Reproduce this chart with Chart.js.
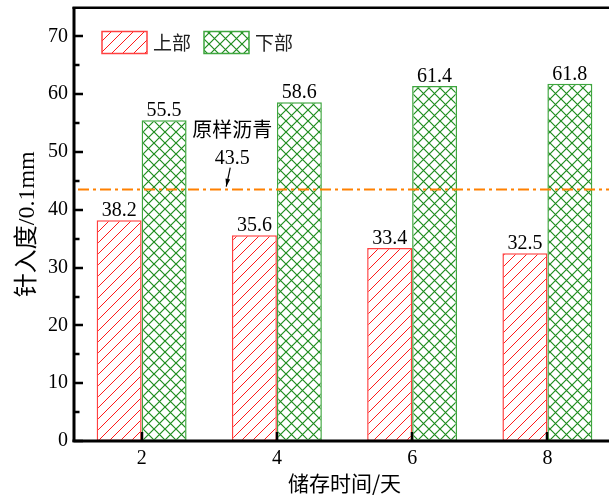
<!DOCTYPE html>
<html>
<head>
<meta charset="utf-8">
<script src="https://cdn.jsdelivr.net/npm/chart.js@4.4.1/dist/chart.umd.min.js"></script>
<style>
  html, body { margin: 0; padding: 0; background: #fff; overflow: hidden; }
  #wrap { width: 616px; height: 499px; position: relative; }
</style>
</head>
<body>
<div id="wrap"><canvas id="c" width="616" height="499"></canvas></div>
<script>
// Storage time (days) and penetration values (0.1 mm)
const categories = ['2', '4', '6', '8'];
const upperValues = [38.2, 35.6, 33.4, 32.5];
const lowerValues = [55.5, 58.6, 61.4, 61.8];
const seriesNames = ['上部', '下部'];
const originalValue = 43.5;
const originalName = '原样沥青';
const yTicks = [0, 10, 20, 30, 40, 50, 60, 70];

const SERIF = '"Liberation Serif", "Times New Roman", "Noto Sans CJK SC", serif';
const CJK = '"Noto Sans CJK SC", "Liberation Serif", serif';

function makePattern(kind) {
  const s = 11;
  const c = document.createElement('canvas');
  c.width = s; c.height = s;
  const g = c.getContext('2d');
  g.fillStyle = '#ffffff';
  g.fillRect(0, 0, s, s);
  g.lineWidth = 1;
  if (kind === 'hatch') {
    g.strokeStyle = '#ff1a1a';
    g.beginPath();
    g.moveTo(-1, s + 1); g.lineTo(s + 1, -1);
    g.moveTo(-1, 1); g.lineTo(1, -1);
    g.moveTo(s - 1, s + 1); g.lineTo(s + 1, s - 1);
    g.stroke();
  } else {
    g.strokeStyle = '#1e8c1e';
    g.lineWidth = 1.2;
    g.beginPath();
    g.moveTo(-1, s + 1); g.lineTo(s + 1, -1);
    g.moveTo(-1, -1); g.lineTo(s + 1, s + 1);
    g.stroke();
  }
  return g.createPattern(c, 'repeat');
}

const ctx0 = document.getElementById('c').getContext('2d');
const redPattern = makePattern('hatch');
const greenPattern = makePattern('cross');
const fills = [redPattern, greenPattern];
const borders = ['#ff4040', '#3fa63f'];

const overlay = {
  id: 'overlay',
  afterDatasetsDraw(chart) {
    const { ctx, chartArea: a, scales: { x, y } } = chart;
    ctx.save();

    // reference line for the original asphalt
    const yl = y.getPixelForValue(originalValue);
    ctx.strokeStyle = '#ff8000';
    ctx.lineWidth = 2;
    ctx.setLineDash([11, 4, 3, 4]);
    ctx.beginPath();
    ctx.moveTo(a.left + 4, yl);
    ctx.lineTo(a.right, yl);
    ctx.stroke();
    ctx.setLineDash([]);

    // frame and inward ticks
    const L = Math.round(a.left), T = Math.round(a.top);
    const B = Math.round(a.bottom), R = Math.round(a.right);
    ctx.fillStyle = '#000000';
    ctx.fillRect(L - 1.5, T - 1, 3, B - T + 2);
    ctx.fillRect(L - 1.5, T - 1.5, R - L + 3, 2.5);
    ctx.fillRect(R - 1.5, T - 1, 3, B - T + 2);
    ctx.fillRect(L - 1.5, B - 1.5, R - L + 3, 3);
    for (let v = 0; v <= 70; v += 5) {
      const py = Math.round(y.getPixelForValue(v));
      const len = v % 10 === 0 ? 9 : 5.5;
      ctx.fillRect(L, py - 1.25, len, 2.5);
    }
    for (let i = 0; i < categories.length; i++) {
      const px = Math.round(x.getPixelForValue(i));
      ctx.fillRect(px - 1.25, B - 9, 2.5, 9);
    }

    // value labels
    ctx.fillStyle = '#000';
    ctx.font = '20px ' + SERIF;
    ctx.textAlign = 'center';
    ctx.textBaseline = 'alphabetic';
    chart.data.datasets.forEach((ds, di) => {
      chart.getDatasetMeta(di).data.forEach((bar, i) => {
        ctx.fillText(ds.data[i].toFixed(1), bar.x, bar.y - 4);
      });
    });

    // legend
    const lx = a.left + 28, ly = a.top + 24, bw = 45, bh = 22;
    ctx.font = '19px ' + CJK;
    ctx.textAlign = 'left';
    ctx.textBaseline = 'middle';
    const offsets = [0, 102];
    chart.data.datasets.forEach((ds, di) => {
      const bx = lx + offsets[di];
      ctx.fillStyle = fills[di];
      ctx.fillRect(bx, ly, bw, bh);
      ctx.strokeStyle = borders[di];
      ctx.lineWidth = 1.5;
      ctx.strokeRect(bx, ly, bw, bh);
      ctx.fillStyle = '#222';
      ctx.fillText(ds.label, bx + bw + 6, ly + bh / 2);
    });

    // annotation of the original value
    const step = x.getPixelForValue(1) - x.getPixelForValue(0);
    const ax = x.getPixelForValue(0) + 0.67 * step;
    ctx.fillStyle = '#000';
    ctx.textAlign = 'center';
    ctx.font = '20px ' + CJK;
    ctx.fillText(originalName, ax, yl - 60);
    ctx.font = '20px ' + SERIF;
    ctx.textBaseline = 'alphabetic';
    ctx.fillText(originalValue.toFixed(1), ax, yl - 26);
    // arrow
    const x1 = ax - 2, y1 = yl - 22, x2 = ax - 6, y2 = yl - 3;
    ctx.strokeStyle = '#000';
    ctx.lineWidth = 1.2;
    ctx.beginPath();
    ctx.moveTo(x1, y1);
    ctx.lineTo(x2, y2);
    ctx.stroke();
    const ang = Math.atan2(y2 - y1, x2 - x1);
    ctx.beginPath();
    ctx.moveTo(x2, y2);
    ctx.lineTo(x2 - 8 * Math.cos(ang - 0.3), y2 - 8 * Math.sin(ang - 0.3));
    ctx.lineTo(x2 - 8 * Math.cos(ang + 0.3), y2 - 8 * Math.sin(ang + 0.3));
    ctx.closePath();
    ctx.fillStyle = '#000';
    ctx.fill();

    ctx.restore();
  }
};

new Chart(ctx0, {
  type: 'bar',
  data: {
    labels: categories,
    datasets: [
      { label: seriesNames[0], data: upperValues, backgroundColor: redPattern,
        borderColor: borders[0], borderWidth: 1.5, borderSkipped: false },
      { label: seriesNames[1], data: lowerValues, backgroundColor: greenPattern,
        borderColor: borders[1], borderWidth: 1.5, borderSkipped: false }
    ]
  },
  options: {
    responsive: false,
    animation: false,
    events: [],
    layout: { padding: { top: 7.5, right: 1, left: 0, bottom: 0 } },
    datasets: { bar: { categoryPercentage: 0.665, barPercentage: 1 } },
    plugins: { legend: { display: false }, tooltip: { enabled: false } },
    scales: {
      x: {
        grid: { display: false, drawTicks: false },
        border: { display: false },
        ticks: { color: '#000', font: { family: SERIF, size: 20 }, padding: 6 },
        title: { display: true, text: '储存时间/天', color: '#000',
                 font: { family: CJK, size: 21 }, padding: { top: 0, bottom: 3 } },
        afterFit(s) { s.height = 58; s.paddingLeft = 0; s.paddingRight = 0; }
      },
      y: {
        min: 0, max: 75,
        grid: { display: false, drawTicks: false },
        border: { display: false },
        afterBuildTicks(s) { s.ticks = yTicks.map(v => ({ value: v })); },
        ticks: { color: '#000', font: { family: SERIF, size: 20 }, padding: 6 },
        title: { display: true, text: '针入度/0.1mm', color: '#000',
                 font: { family: SERIF, size: 24 }, padding: { top: 13, bottom: 0 } },
        afterFit(s) { s.width = 74; s.paddingTop = 0; s.paddingBottom = 0; }
      }
    }
  },
  plugins: [overlay]
});
</script>
</body>
</html>
